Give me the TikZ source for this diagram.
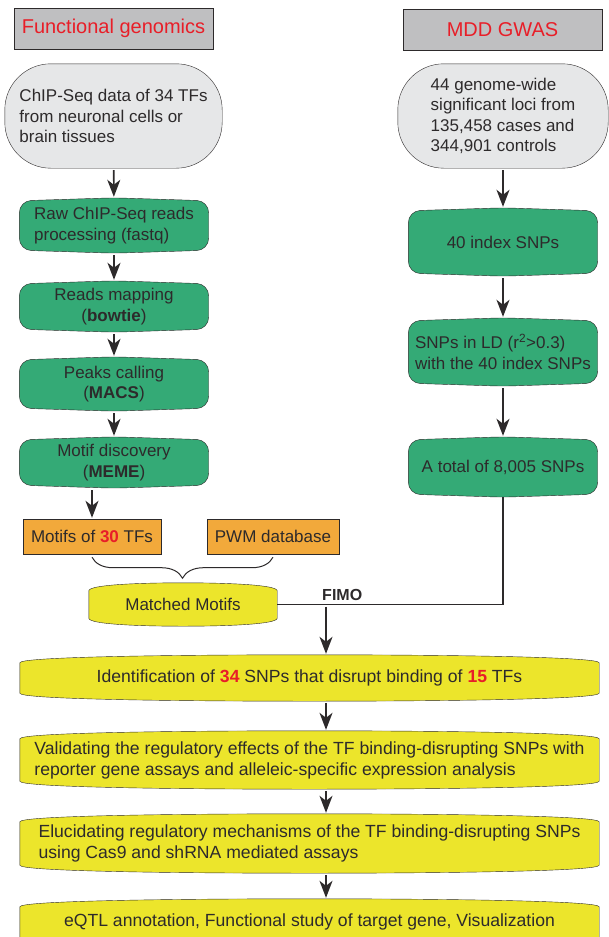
\documentclass[tikz,border=0pt]{standalone}
\usepackage{fontspec}
\setmainfont{Liberation Sans}
\usetikzlibrary{arrows.meta,backgrounds,decorations.pathreplacing}

\definecolor{titlegray}{RGB}{191,191,193}
\definecolor{stadgray}{RGB}{230,231,232}
\definecolor{boxgreen}{RGB}{52,170,118}
\definecolor{boxorange}{RGB}{242,169,59}
\definecolor{boxyellow}{RGB}{236,229,43}
\definecolor{txtred}{RGB}{232,30,40}
\definecolor{linegray}{RGB}{45,42,43}

\newcommand{\rednum}[1]{\textcolor{txtred}{\textbf{#1}}}
% green boxes: rounded corners with a slight peak top and bottom
\newcommand{\bulged}[2]{([yshift=-#2]#1.north west) -- (#1.north) -- ([yshift=-#2]#1.north east) -- ([yshift=#2]#1.south east) -- (#1.south) -- ([yshift=#2]#1.south west) -- cycle}
% yellow boxes: arched top and bottom
\newcommand{\arched}[2]{([yshift=-8pt]#1.north west) .. controls ([yshift=-2pt]#1.north west) and ([xshift=-#2]#1.north) .. (#1.north) .. controls ([xshift=#2]#1.north) and ([yshift=-2pt]#1.north east) .. ([yshift=-8pt]#1.north east) -- ([yshift=8pt]#1.south east) .. controls ([yshift=2pt]#1.south east) and ([xshift=#2]#1.south) .. (#1.south) .. controls ([xshift=-#2]#1.south) and ([yshift=2pt]#1.south west) .. ([yshift=8pt]#1.south west) -- cycle}

\begin{document}
\begin{tikzpicture}[x=1pt,y=-1pt,font=\fontsize{17}{20.5}\selectfont,text=linegray]

      \useasboundingbox (0,0) rectangle (608,937);

      \begin{scope}[every node/.style={draw=linegray,fill=titlegray,text=txtred,font=\fontsize{20}{23}\selectfont,minimum width=199pt,minimum height=41pt,inner sep=0pt}]
        \node (1) at (113.5,28.5) {Functional genomics};
        \node (2) at (502.5,29.5) {MDD GWAS};
      \end{scope}

      \begin{scope}[every node/.style={align=left,inner sep=0pt,minimum height=104pt}]
        \node[minimum width=217pt] (3) at (113.5,116) {ChIP-Seq data of 34 TFs\\from neuronal cells or\\brain tissues};
        \node[minimum width=210pt] (4) at (503,116) {44 genome-wide\\significant loci from\\135,458 cases and\\344,901 controls};
      \end{scope}

      \begin{scope}[every node/.style={align=center,inner sep=0pt,minimum width=189pt}]
        \node[minimum height=55pt,align=left] (5) at (114,225.5) {Raw ChIP-Seq reads\\processing (fastq)};
        \node[minimum height=51pt] (6) at (114,306.5) {Reads mapping\\(\textbf{bowtie})};
        \node[minimum height=54pt] (7) at (114,384) {Peaks calling\\(\textbf{MACS})};
        \node[minimum height=51pt] (8) at (114,462.5) {Motif discovery\\(\textbf{MEME})};
        \node[minimum height=68pt] (9) at (503,242) {40 index SNPs};
        \node[minimum height=68pt,align=left] (10) at (503,352) {SNPs in LD (r\textsuperscript{2}>0.3)\\with the 40 index SNPs};
        \node[minimum height=60pt] (11) at (503,467) {A total of 8,005 SNPs};
      \end{scope}

      \begin{scope}[every node/.style={draw=linegray,fill=boxorange,minimum height=35pt,inner sep=0pt}]
        \node[minimum width=138pt] (12) at (92,536.5) {Motifs of \rednum{30} TFs};
        \node[minimum width=132pt] (13) at (273,536.5) {PWM database};
      \end{scope}

      \begin{scope}[every node/.style={align=left,inner sep=0pt,minimum width=579pt,font=\fontsize{17.6}{21}\selectfont}]
        \node[minimum width=188pt,minimum height=43pt,font=\fontsize{17}{20.5}\selectfont] (14) at (183,604.5) {Matched Motifs};
        \node[minimum height=46pt] (15) at (309.5,678) {Identification of \rednum{34} SNPs that disrupt binding of \rednum{15} TFs};
        \node[minimum height=58pt] (16) at (309.5,760) {Validating the regulatory effects of the TF binding-disrupting SNPs with\\reporter gene assays and alleleic-specific expression analysis};
        \node[minimum height=59pt] (17) at (309.5,843.5) {Elucidating regulatory mechanisms of the TF binding-disrupting SNPs\\using Cas9 and shRNA mediated assays};
        \node[minimum height=46pt] (18) at (309.5,922) {eQTL annotation, Functional study of target gene, Visualization};
      \end{scope}

      \begin{scope}[on background layer,line width=0.9pt]
        \foreach \n in {3,4} \path[draw=linegray,fill=stadgray,rounded corners=46pt] (\n.north west) rectangle (\n.south east);
        \foreach \n in {5,...,11} \path[draw=linegray,fill=boxgreen,rounded corners=12pt] \bulged{\n}{3pt};
        \path[draw=linegray,fill=boxyellow] \arched{14}{45pt};
        \foreach \n in {15,...,18} \path[draw=linegray,fill=boxyellow] \arched{\n}{140pt};
      \end{scope}

      \coordinate (j) at (326,604.5);

      \draw[linegray,line width=1.5pt] (11.south) |- (14.east) node[pos=0.856,above,font=\fontsize{16}{19}\selectfont\bfseries] {FIMO};
      \draw[linegray,line width=1pt,decorate,decoration={brace,amplitude=21pt,mirror}] ([yshift=-3pt]12.south) -- ([yshift=-3pt]13.south);

      \begin{scope}[every edge/.style={draw=linegray,line width=1.6pt,-{Stealth[length=17pt,width=13pt,inset=5pt]},shorten <=2pt,shorten >=1pt}]
        \path (3) edge (5);
        \path (5) edge (6);
        \path (6) edge (7);
        \path (7) edge (8);
        \path (8.south -| 12.north) edge (12);
        \path (4) edge (9);
        \path (9) edge (10);
        \path (10) edge (11);
        \path (j) edge (j |- 15.north);
        \path (15.south -| j) edge (16.north -| j);
        \path (16.south -| j) edge (17.north -| j);
        \path (17.south -| j) edge (18.north -| j);
      \end{scope}

    \end{tikzpicture}
\end{document}
